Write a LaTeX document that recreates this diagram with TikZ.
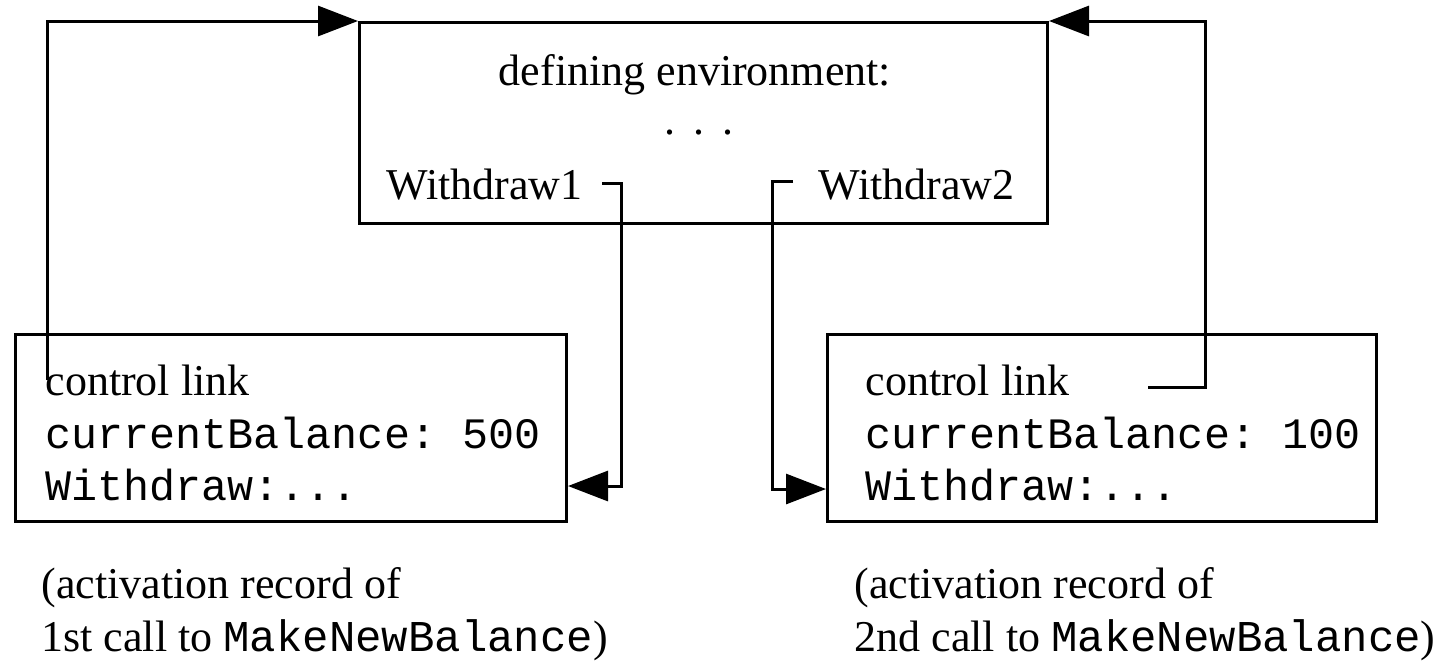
\documentclass[tikz,border=0pt]{standalone}
\usepackage{fontspec}
\setmainfont{Liberation Serif}
\setmonofont{Liberation Mono}
\usetikzlibrary{arrows.meta}
\begin{document}
\begin{tikzpicture}[x=0.5pt,y=-0.5pt,
    line width=1.5pt,
    frame/.style={draw, line width=1.5pt, inner sep=0pt, anchor=north west},
    lbl/.style={inner sep=0pt, font=\fontsize{22}{26}\selectfont},
    code/.style={inner sep=0pt, font=\fontsize{21.7}{26}\selectfont\ttfamily},
    link/.style={draw, line width=1.5pt, -{Triangle[length=20pt,width=15pt]}},
    plain/.style={draw, line width=1.5pt}]
\useasboundingbox (0,0) rectangle (1439,661);

% defining environment
\node[frame, minimum width=344pt, minimum height=100.5pt] (env) at (358,21) {};
\node[lbl, anchor=base] (deftitle) at (695,85) {defining environment:};
\node[lbl, anchor=base] (dots) at (699,134) {.\kern9pt.\kern9pt.};
\node[lbl, anchor=base west] (w1) at (385,199) {Withdraw1};
\node[lbl, anchor=base east] (w2) at (1016,199) {Withdraw2};

% activation records
\node[frame, minimum width=275.5pt, minimum height=93.5pt] (rec1) at (14,333) {};
\node[frame, minimum width=274.5pt, minimum height=93.5pt] (rec2) at (826,333) {};

\node[lbl, anchor=base west] (cl1) at (44,395) {control link};
\node[code, anchor=base west] (cb1) at (44,448) {currentBalance: 500};
\node[code, anchor=base west] (wd1) at (44,500) {Withdraw:...};

\node[lbl, anchor=base west] (cl2) at (864,395) {control link};
\node[code, anchor=base west] (cb2) at (864,448) {currentBalance: 100};
\node[code, anchor=base west] (wd2) at (864,500) {Withdraw:...};

% captions
\node[lbl, anchor=base west] (cap1a) at (40,598) {(activation record of};
\node[lbl, anchor=base west] (cap1b) at (40,651) {1st call to \texttt{MakeNewBalance})};
\node[lbl, anchor=base west] (cap2a) at (853,598) {(activation record of};
\node[lbl, anchor=base west] (cap2b) at (853,651) {2nd call to \texttt{MakeNewBalance})};

% connector end points
\coordinate (c1start) at (47,380);
\coordinate (c2start) at (1148,387);
\coordinate (c2turn) at (1205,387);
\coordinate (w1start) at (602,183);
\coordinate (w1turn) at (621,183);
\coordinate (w1end) at (621,486);
\coordinate (w2start) at (793,181);
\coordinate (w2turn) at (772,181);
\coordinate (w2end) at (772,489);

% control links
\draw[link] (c1start) |- (env.north west);
\draw[link] (c2start) -- (c2turn) |- (env.north east);

% Withdraw references
\draw[link] (w1start) -- (w1turn) -- (w1end) -- (rec1.east |- w1end);
\draw[link] (w2start) -- (w2turn) -- (w2end) -- (rec2.west |- w2end);
\end{tikzpicture}
\end{document}
